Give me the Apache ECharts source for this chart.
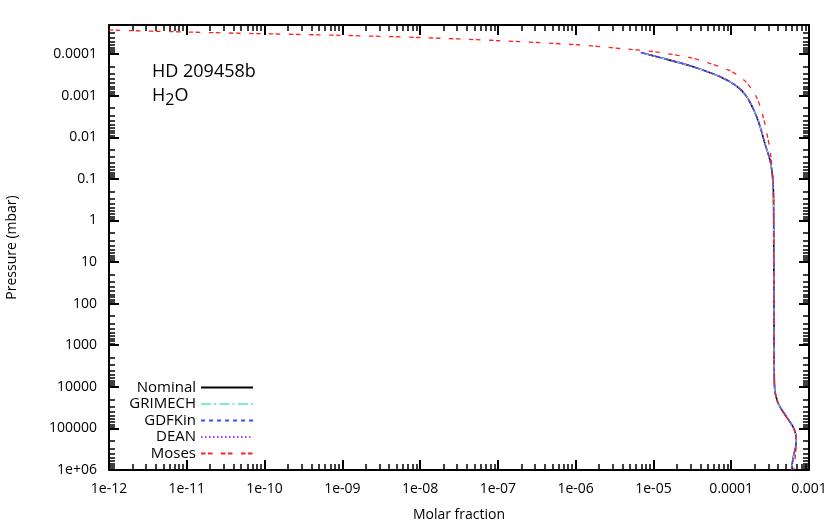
<!DOCTYPE html>
<html>
<head>
<meta charset="utf-8">
<script src="https://cdn.jsdelivr.net/npm/echarts@6/dist/echarts.min.js"></script>
<style>
  html, body { margin: 0; padding: 0; background: #fff; }
  #chart { width: 831px; height: 524px; }
</style>
</head>
<body>
<div id="chart"></div>
<script>
// tick labels, gnuplot style
const xTickLabels = ["1e-12", "1e-11", "1e-10", "1e-09", "1e-08", "1e-07", "1e-06", "1e-05", "0.0001", "0.001"];
const yTickLabels = ["0.0001", "0.001", "0.01", "0.1", "1", "10", "100", "1000", "10000", "100000", "1e+06"];

const seriesNames = ["Nominal", "GRIMECH", "GDFKin", "DEAN", "Moses"];

// Nominal profile: molar fraction vs pressure (mbar)
const nominalX = [6.9e-6, 1.21e-5, 2.95e-5, 7.2e-5, 1.15e-4, 1.55e-4, 1.95e-4, 2.35e-4, 2.7e-4, 3.15e-4, 3.4e-4, 3.5e-4, 3.52e-4, 3.55e-4, 3.57e-4, 3.62e-4, 4.0e-4, 5.1e-4, 6.2e-4, 6.8e-4, 6.75e-4, 6.3e-4, 5.95e-4];
const nominalP = [9.2e-5, 1.21e-4, 1.91e-4, 3.5e-4, 5.75e-4, 1.0e-3, 2.2e-3, 5.5e-3, 0.014, 0.035, 0.09, 0.28, 3, 100, 3000, 11000, 24700, 51900, 90000, 156000, 272000, 472000, 1e6];

// GRIMECH, GDFKin and DEAN lie on top of the nominal curve
const grimechX = nominalX, grimechP = nominalP;
const gdfkinX = nominalX, gdfkinP = nominalP;
const deanX = nominalX, deanP = nominalP;

// Moses
const mosesX = [1e-12, 1e-11, 1e-10, 1e-9, 1e-8, 1e-7, 1e-6, 4.6e-6, 1e-5, 1.65e-5, 2.95e-5, 5.3e-5, 9.6e-5, 1.5e-4, 2.12e-4, 2.58e-4, 2.94e-4, 3.21e-4, 3.44e-4, 3.5e-4, 3.52e-4, 3.55e-4, 3.57e-4, 3.62e-4, 4.0e-4, 5.1e-4, 6.2e-4, 6.8e-4, 6.8e-4, 6.6e-4, 6.4e-4];
const mosesP = [2.65e-5, 2.95e-5, 3.25e-5, 3.55e-5, 4.0e-5, 4.75e-5, 5.95e-5, 7.6e-5, 8.7e-5, 1.0e-4, 1.21e-4, 1.68e-4, 2.5e-4, 4.4e-4, 1.1e-3, 3.3e-3, 0.01, 0.025, 0.11, 0.3, 3, 100, 3000, 11000, 24700, 51900, 90000, 156000, 272000, 566000, 1e6];

const font = "'Open Sans', 'DejaVu Sans', sans-serif";

function pairs(xs, ps) {
  return xs.map((x, i) => [x, ps[i]]);
}

// major ticks at the decades, minor ticks at 2..9 of every decade
function minorValues(majors, lo, hi) {
  let out = [];
  let decades = [majors[0] / 10].concat(majors);
  decades.forEach((d) => {
    for (let m = 2; m <= 9; m++) {
      let v = d * m;
      if (v > lo && v < hi) out.push(v);
    }
  });
  return out;
}

const xMajor = xTickLabels.map(Number);
const yMajor = yTickLabels.map(Number);
const xMin = 1e-12, xMax = 1e-3;
const yMin = 2e-5, yMax = 1e6;
const xMinor = minorValues(xMajor, xMin, xMax);
const yMinor = minorValues(yMajor, yMin, yMax);

function labelFor(labels, majors) {
  return function (v) {
    for (let i = 0; i < majors.length; i++) {
      if (Math.abs(Math.log10(v) - Math.log10(majors[i])) < 1e-6) return labels[i];
    }
    return "";
  };
}

function axisDef(dir, pos, major, withLabels) {
  let isX = dir === "x";
  let labels = isX ? xTickLabels : yTickLabels;
  let majors = isX ? xMajor : yMajor;
  return {
    type: "log",
    logBase: 10,
    position: pos,
    inverse: !isX,
    min: isX ? xMin : yMin,
    max: isX ? xMax : yMax,
    axisLine: { show: major, onZero: false, lineStyle: { color: "#000", width: 2 } },
    axisTick: {
      show: true,
      inside: true,
      length: major ? 10 : 6,
      customValues: major ? majors : (isX ? xMinor : yMinor),
      lineStyle: { color: "#000", width: major ? 2 : 1.5 },
    },
    splitLine: { show: false },
    axisLabel: {
      show: withLabels,
      customValues: majors,
      margin: 12,
      color: "#000",
      fontFamily: font,
      fontSize: 14,
      formatter: labelFor(labels, majors),
    },
    name: withLabels ? (isX ? "Molar fraction" : "Pressure (mbar)") : "",
    nameLocation: "middle",
    nameGap: isX ? 38 : 90,
    nameTextStyle: { color: "#000", fontFamily: font, fontSize: 14 },
  };
}

function lineSeries(name, data, color, type, width) {
  return {
    name: name,
    type: "line",
    xAxisIndex: 0,
    yAxisIndex: 0,
    data: data,
    symbol: "none",
    showSymbol: false,
    smooth: 0.3,
    clip: true,
    lineStyle: { color: color, width: width, type: type },
    itemStyle: { color: color },
  };
}

let myChart = echarts.init(document.getElementById("chart"));
let option = {
  animation: false,
  backgroundColor: "#fff",
  grid: { left: 109, right: 22, top: 25, bottom: 54, outerBoundsMode: "none", containLabel: false },
  xAxis: [
    axisDef("x", "bottom", true, true),
    axisDef("x", "top", true, false),
    axisDef("x", "bottom", false, false),
    axisDef("x", "top", false, false),
  ],
  yAxis: [
    axisDef("y", "left", true, true),
    axisDef("y", "right", true, false),
    axisDef("y", "left", false, false),
    axisDef("y", "right", false, false),
  ],
  legend: {
    orient: "vertical",
    align: "right",
    right: 572,
    top: 375,
    itemWidth: 52,
    itemHeight: 10,
    itemGap: 1.5,
    itemStyle: { opacity: 0 },
    textStyle: { color: "#000", fontFamily: font, fontSize: 15 },
    data: seriesNames,
  },
  graphic: [
    {
      type: "text",
      left: 152,
      top: 63,
      style: { text: "HD 209458b", fill: "#000", font: "18px " + font },
    },
    {
      type: "text",
      left: 152,
      top: 87,
      style: {
        text: "H{sub|2}O",
        fill: "#000",
        font: "18px " + font,
        rich: {
          sub: { fontSize: 16, fontFamily: font, fill: "#000", padding: [9, 0, 0, 0] },
        },
      },
    },
  ],
  series: [
    lineSeries(seriesNames[0], pairs(nominalX, nominalP), "#000000", "solid", 1.6),
    lineSeries(seriesNames[1], pairs(grimechX, grimechP), "#7fecc8", [10, 3, 2, 3.5], 1.3),
    lineSeries(seriesNames[2], pairs(gdfkinX, gdfkinP), "#3a4cff", [4, 4], 1.3),
    lineSeries(seriesNames[3], pairs(deanX, deanP), "#b040ff", [1.5, 2.5], 1.3),
    lineSeries(seriesNames[4], pairs(mosesX, mosesP), "#ff2020", [4.5, 2.5, 4.5, 8.5], 1.3),
  ],
};
myChart.setOption(option);
window.addEventListener("resize", () => {
  myChart.resize();
});
</script>
</body>
</html>
